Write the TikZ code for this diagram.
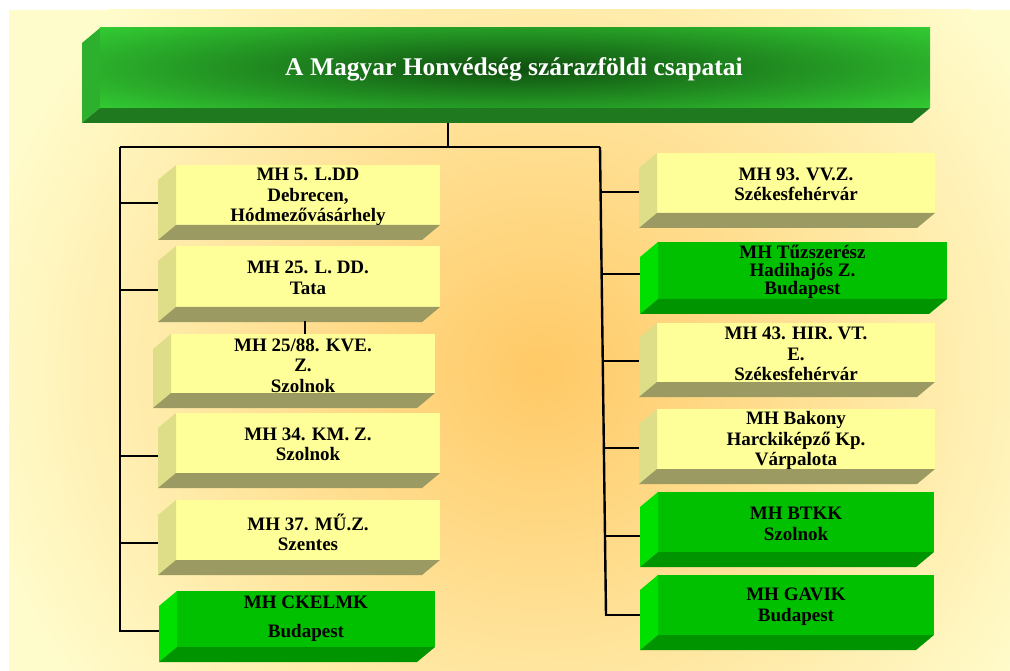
\documentclass[tikz,border=0pt]{standalone}
\usepackage{fontspec}
\setmainfont{Liberation Serif}
\usetikzlibrary{calc,fit}
\definecolor{bgc}{HTML}{FFFCCC}
\definecolor{bgO}{HTML}{FFC966}
\definecolor{yelF}{HTML}{FFFF99}
\definecolor{yelS}{HTML}{DEDE88}
\definecolor{yelB}{HTML}{9A9A62}
\definecolor{grnF}{HTML}{00C000}
\definecolor{grnS}{HTML}{00E000}
\definecolor{grnB}{HTML}{009400}
\definecolor{topF}{HTML}{33CC33}
\definecolor{topS}{HTML}{2DB02D}
\definecolor{topB}{HTML}{1F7A1F}
\definecolor{topG}{HTML}{0F4F0F}
\newcommand\tdbox[6]{%
  \node[inner sep=0pt, outer sep=0pt, fit={(#2,#3) (#4,#5)}, fill=#6F] (#1) {};
  \fill[#6S] (#1.north west) -- ++(-18,15) -- ($(#1.south west)+(-18,15)$) -- (#1.south west) -- cycle;
  \fill[#6B] (#1.south west) -- (#1.south east) -- ++(-18,15) -- ($(#1.south west)+(-18,15)$) -- cycle;
  \coordinate (#1-side) at ($(#1.west)+(-18,7.5)$);
}
\tikzset{
  lbl/.style={font=\bfseries\fontsize{19}{20.5}\selectfont, align=center, inner sep=0pt, text=black},
  conn/.style={draw=black, line width=2.4pt},
}
\begin{document}
\begin{tikzpicture}[x=1pt,y=-1pt]
\useasboundingbox (0,0) rectangle (1010,671);
\fill[white] (0,0) rectangle (1010,671);
\fill[bgc] (9,10) rectangle (1010,671);
\begin{scope}
  \clip (9,10) rectangle (1010,671);
  \shade[inner color=bgO, outer color=bgc] (540,370) ellipse (580 and 540);
\end{scope}

% connectors
\coordinate (stemtop) at (448,123);
\coordinate (hub) at (448,147);
\coordinate (ltop) at (120,147);
\coordinate (lbot) at (120,631);
\coordinate (rtop) at (600,147);
\coordinate (rbot) at (606,615);
\draw[conn] (stemtop) -- (hub);
\draw[conn] (ltop) -- (rtop);
\draw[conn] (ltop) -- (lbot);
\draw[conn] (rtop) -- (rbot);

% top box
\tdbox{top}{100}{28}{930}{108}{top}
\begin{scope}
  \clip (top.south west) rectangle (top.north east);
  \shade[inner color=topG, outer color=topF] (514,68) ellipse (540 and 64);
\end{scope}
\node[inner sep=0pt, text=white, font=\bfseries\fontsize{25.5}{28}\selectfont] (title) at (514,69) {A Magyar Honvédség szárazföldi csapatai};

% left column
\tdbox{l1}{176}{165}{440}{225}{yel}
\tdbox{l2}{176}{246}{440}{307}{yel}
\tdbox{l3}{171}{334}{435}{393}{yel}
\tdbox{l4}{176}{413}{440}{473}{yel}
\tdbox{l5}{176}{500}{440}{560}{yel}
\tdbox{l6}{177}{591}{435}{647}{grn}

% right column
\tdbox{r1}{657}{153}{935}{213}{yel}
\tdbox{r2}{658}{242}{947}{299}{grn}
\tdbox{r3}{657}{323}{935}{382}{yel}
\tdbox{r4}{657}{409}{935}{469}{yel}
\tdbox{r5}{658}{492}{934}{552}{grn}
\tdbox{r6}{658}{575}{934}{635}{grn}

% branches left
\coordinate (lb1) at (120,203);
\coordinate (lb2) at (120,290);
\coordinate (lb4) at (120,456);
\coordinate (lb5) at (120,543);
\draw[conn] (lb1) -- (lb1 -| l1-side);
\draw[conn] (lb2) -- (lb2 -| l2-side);
\draw[conn] (lb4) -- (lb4 -| l4-side);
\draw[conn] (lb5) -- (lb5 -| l5-side);
\draw[conn] ([xshift=-1.2pt]lbot) -- (lbot -| l6-side);
\coordinate (stub) at (305,321);
\draw[conn] (stub) -- (stub |- l3.north);

% branches right
\coordinate (rb1) at ($(rtop)!0.096!(rbot)$);
\coordinate (rb2) at ($(rtop)!0.271!(rbot)$);
\coordinate (rb3) at ($(rtop)!0.457!(rbot)$);
\coordinate (rb4) at ($(rtop)!0.643!(rbot)$);
\coordinate (rb5) at ($(rtop)!0.831!(rbot)$);
\draw[conn] (rb1) -- (rb1 -| r1-side);
\draw[conn] (rb2) -- (rb2 -| r2-side);
\draw[conn] (rb3) -- (rb3 -| r3-side);
\draw[conn] (rb4) -- (rb4 -| r4-side);
\draw[conn] (rb5) -- (rb5 -| r5-side);
\draw[conn] ([xshift=-1.2pt]rbot) -- (rbot -| r6-side);

% labels
\node[lbl] (l1t) at (l1.center |- 0,197) {MH 5. L.DD\\Debrecen,\\Hódmezővásárhely};
\node[lbl] (l2t) at (l2.center |- 0,278) {MH 25. L. DD.\\Tata};
\node[lbl] (l3t) at (l3.center |- 0,365.5) {MH 25/88. KVE.\\Z.\\Szolnok};
\node[lbl] (l4t) at (l4.center |- 0,444.5) {MH 34. KM. Z.\\Szolnok};
\node[lbl] (l5t) at (l5.center |- 0,532.5) {MH 37. MŰ.Z.\\Szentes};
\node[lbl] (l6t) at (l6.center |- 0,619) {MH CKELMK\\[8.5pt]Budapest};
\node[lbl] (r1t) at (r1.center |- 0,184.5) {MH 93. VV.Z.\\Székesfehérvár};
\node[lbl, font=\bfseries\fontsize{19}{18}\selectfont] (r2t) at (r2.center |- 0,272) {MH Tűzszerész\\Hadihajós Z.\\Budapest};
\node[lbl] (r3t) at (r3.center |- 0,354) {MH 43. HIR. VT.\\E.\\Székesfehérvár};
\node[lbl] (r4t) at (r4.center |- 0,440.5) {MH Bakony\\Harckiképző Kp.\\Várpalota};
\node[lbl] (r5t) at (r5.center |- 0,524) {MH BTKK\\Szolnok};
\node[lbl] (r6t) at (r6.center |- 0,606.5) {MH GAVIK\\Budapest};
\end{tikzpicture}
\end{document}
